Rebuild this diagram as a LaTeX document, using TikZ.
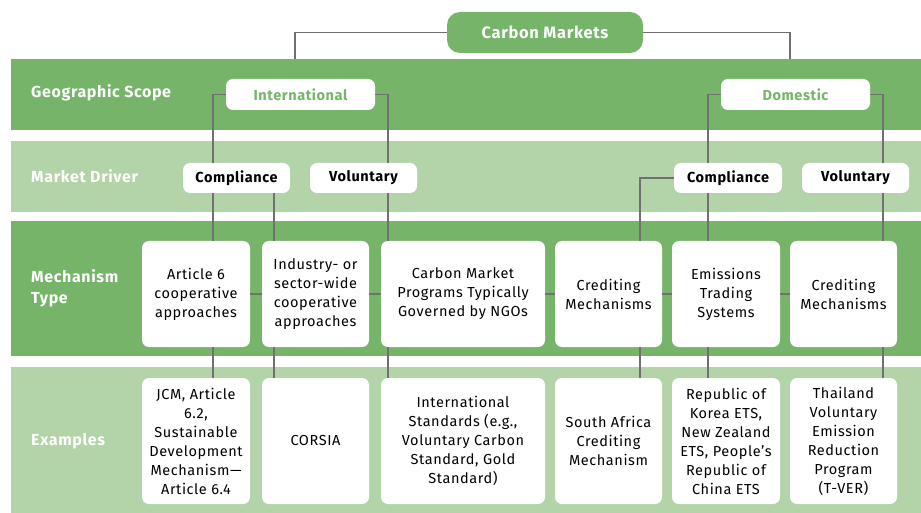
\documentclass[tikz,border=0pt]{standalone}
\usepackage{fontspec}
\setmainfont[LetterSpace=4]{Fira Sans}
\usetikzlibrary{positioning}
\definecolor{dark colour}{RGB}{117,180,105}
\definecolor{light colour}{RGB}{179,211,168}
\definecolor{link colour}{RGB}{112,112,112}
\tikzset{
    % Grey connectors between the boxes
    link/.style={draw=link colour, line width=1.5pt},
%
    % Full width rows, with their titles on the left
    band/.style={rectangle, inner sep=0, minimum width=910pt},
    dark band/.style={band, fill=dark colour},
    light band/.style={band, fill=light colour},
    band label/.style={
        anchor=west, align=left, inner sep=0, text=white,
        font=\bfseries\fontsize{16}{21}\selectfont},
%
    % White boxes sitting on the rows
    tag/.style={
        rectangle, rounded corners=7pt, fill=white, inner sep=0,
        minimum width=107pt, minimum height=30pt,
        font=\bfseries\fontsize{14.5}{19}\selectfont},
    scope tag/.style={tag, minimum width=149pt, minimum height=31pt, text=dark colour},
    card/.style={
        rectangle, rounded corners=7pt, fill=white, inner sep=0, align=center,
        minimum width=107pt, font=\fontsize{14.5}{19}\selectfont},
    mechanism/.style={card, minimum height=106pt},
    example/.style={card, minimum height=126pt},
    root/.style={
        rectangle, rounded corners=13pt, fill=dark colour, text=white,
        minimum width=196pt, minimum height=41pt,
        font=\bfseries\fontsize{16.5}{19}\selectfont},
}

\begin{document}
\begin{tikzpicture}[x=1pt, y=-1pt]
\useasboundingbox (0,0) rectangle (921,513);

% Rows
\path
    (466,94.5) node [dark band, minimum height=71pt] (scope) {}
    (466,176.5) node [light band, minimum height=71pt] (driver) {}
    (466,288.5) node [dark band, minimum height=135pt] (mech) {}
    (466,440) node [light band, minimum height=146pt] (examples) {};

\path
    (31,93) node [band label] {Geographic Scope}
    (31,176) node [band label] {Market Driver}
    (31,288) node [band label] {Mechanism\\Type}
    (31,441) node [band label] {Examples};

% Tree of scopes and drivers
\path
    (545,32.5) node [root] (cm) {Carbon Markets}
    (300.5,94.5) node [scope tag] (intl) {International}
    (795.5,94.5) node [scope tag] (dom) {Domestic}
    (236.5,178) node [tag] (comp1) {Compliance}
    (363.5,178) node [tag] (vol1) {Voluntary}
    (728,178) node [tag, minimum width=108pt] (comp2) {Compliance}
    (855.5,178) node [tag] (vol2) {Voluntary};

% Mechanisms and their examples
\path
    (196,294) node [mechanism, minimum width=108pt] (art6) {Article 6\\cooperative\\approaches}
    (315.5,294) node [mechanism] (ind) {Industry- or\\sector-wide\\cooperative\\approaches}
    (463,294) node [mechanism, minimum width=164pt] (ngo) {Carbon Market\\Programs Typically\\Governed by NGOs}
    (608.5,294) node [mechanism] (cred1) {Crediting\\Mechanisms}
    (726,294) node [mechanism, minimum width=108pt] (ets) {Emissions\\Trading\\Systems}
    (843.5,294) node [mechanism] (cred2) {Crediting\\Mechanisms};

\path
    (196,441) node [example, minimum width=108pt] (art6ex) {JCM, Article\\6.2,\\Sustainable\\Development\\Mechanism—\\Article 6.4}
    (315.5,441) node [example] (index) {CORSIA}
    (463,441) node [example, minimum width=164pt] (ngoex) {International\\Standards (e.g.,\\Voluntary Carbon\\Standard, Gold\\Standard)}
    (608.5,441) node [example] (cred1ex) {South Africa\\Crediting\\Mechanism}
    (726,441) node [example, minimum width=108pt] (etsex) {Republic of\\Korea ETS,\\New Zealand\\ETS, People's\\Republic of\\China ETS}
    (843.5,441) node [example] (cred2ex) {Thailand\\Voluntary\\Emission\\Reduction\\Program\\(T-VER)};

% x positions of the vertical runs
\coordinate (x intl) at (295,0);
\coordinate (x dom) at (790,0);
\coordinate (x art6) at (213,0);
\coordinate (x ind) at (274,0);
\coordinate (x ngo) at (388,0);
\coordinate (x cred1) at (640,0);
\coordinate (x ets) at (708,0);
\coordinate (x cred2) at (883,0);

\draw [link] (cm.west) -| (scope.north -| x intl);
\draw [link] (cm.east) -| (scope.north -| x dom);

\draw [link] (intl.west) -| (comp1.north -| x art6);
\draw [link] (intl.east) -| (vol1.north -| x ngo);
\draw [link] (dom.west) -| (comp2.north -| x ets);
\draw [link] (dom.east) -| (vol2.north -| x cred2);
\draw [link] (comp2.west) -| (cred1.north -| x cred1);

\draw [link] (comp1.south -| x art6) -- (art6.north -| x art6);
\draw [link] (comp1.south -| x ind) -- (ind.north -| x ind);
\draw [link] (vol1.south -| x ngo) -- (ngo.north -| x ngo);
\draw [link] (comp2.south -| x ets) -- (ets.north -| x ets);
\draw [link] (vol2.south -| x cred2) -- (cred2.north -| x cred2);

\draw [link] (art6.south -| x art6) -- (art6ex.north -| x art6);
\draw [link] (ind.south -| x ind) -- (index.north -| x ind);
\draw [link] (ngo.south -| x ngo) -- (ngoex.north -| x ngo);
\draw [link] (cred1.south -| x cred1) -- (cred1ex.north -| x cred1);
\draw [link] (ets.south -| x ets) -- (etsex.north -| x ets);
\draw [link] (cred2.south -| x cred2) -- (cred2ex.north -| x cred2);

\draw [link] (art6) -- (ind);
\draw [link] (ind) -- (ngo);
\draw [link] (ngo) -- (cred1);
\draw [link] (cred1) -- (ets);
\draw [link] (ets) -- (cred2);

\end{tikzpicture}
\end{document}
